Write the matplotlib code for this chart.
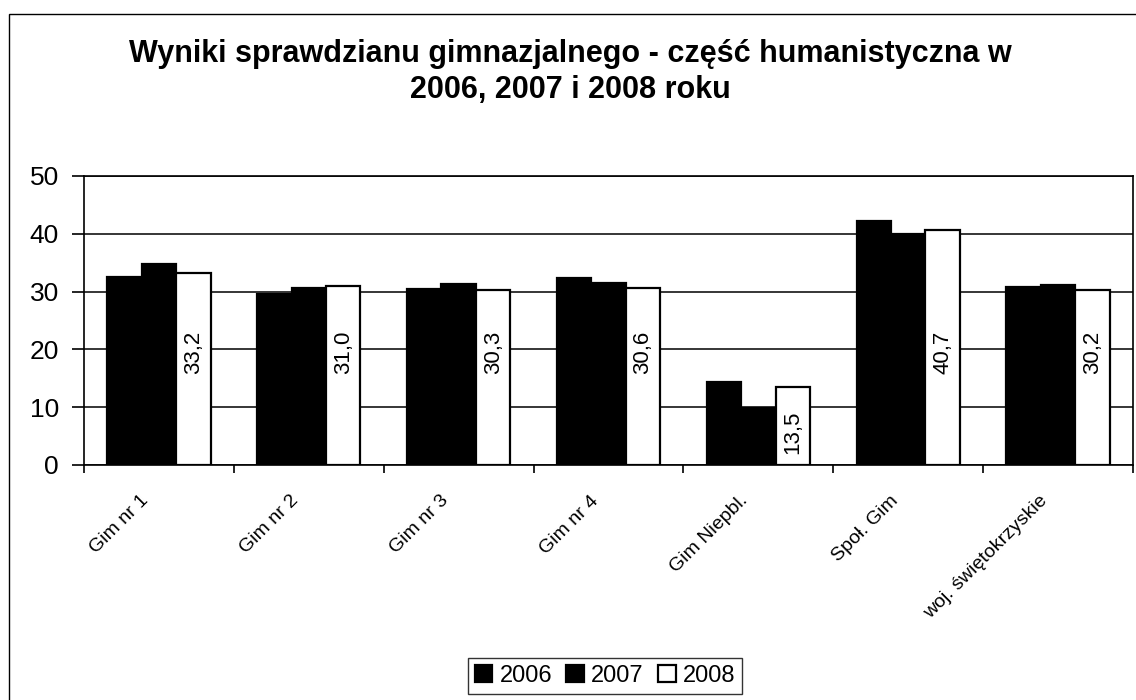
import matplotlib
matplotlib.use("Agg")
import matplotlib.pyplot as plt
import matplotlib.patches as mpatches
import matplotlib.transforms as mtransforms
import numpy as np

plt.rcParams['font.family'] = ['Liberation Sans', 'DejaVu Sans']

categories = ["Gim nr 1", "Gim nr 2", "Gim nr 3", "Gim nr 4", "Gim Niepbl.",
              "Społ. Gim", "woj. świętokrzyskie"]
years = ["2006", "2007", "2008"]
v2006 = [32.6, 29.5, 30.4, 32.3, 14.3, 42.2, 30.8]
v2007 = [34.8, 30.7, 31.3, 31.5, 9.8, 39.9, 31.1]
v2008 = [33.2, 31.0, 30.3, 30.6, 13.5, 40.7, 30.2]
labels2008 = ["33,2", "31,0", "30,3", "30,6", "13,5", "40,7", "30,2"]
yticks = [0, 10, 20, 30, 40, 50]

fig = plt.figure(figsize=(11.36, 7.0), dpi=100)
ax = fig.add_axes([84/1136, 1-465/700, (1133-84)/1136, (465-176)/700])

x = np.arange(len(categories))
w = 0.23
series = [v2006, v2007, v2008]
faces = ["black", "black", "white"]
for i, (vals, fc) in enumerate(zip(series, faces)):
    ax.bar(x + (i-1)*w, vals, width=w, color=fc, edgecolor="black",
           linewidth=1.6, label=years[i], zorder=3)

for xi, v, lab in zip(x, v2008, labels2008):
    ax.text(xi + w, min(19.5, v - 7.8), lab, rotation=90, ha="center",
            va="center", fontsize=16, zorder=4)

ax.set_xlim(-0.5, len(categories)-0.5)
ax.set_ylim(0, 50)
ax.set_yticks(yticks)
ax.set_yticklabels([str(t) for t in yticks], fontsize=19)
ax.tick_params(axis="y", length=9, width=1.2, pad=9)

ax.set_xticks(x)
ax.set_xticklabels(categories, rotation=45, ha="right", rotation_mode="anchor",
                   fontsize=14)
ax.tick_params(axis="x", which="major", length=0, pad=16)
offset = mtransforms.ScaledTranslation(-19/100, -5/100, fig.dpi_scale_trans)
for lbl in ax.get_xticklabels():
    lbl.set_transform(lbl.get_transform() + offset)
ax.set_xticks(np.arange(-0.5, len(categories)), minor=True)
ax.tick_params(axis="x", which="minor", length=6, width=1.2)

ax.yaxis.grid(True, color="black", linewidth=1.1, zorder=0)
ax.set_axisbelow(True)
for s in ax.spines.values():
    s.set_linewidth(1.2)
    s.set_color("black")

fig.text(570/1136, 1-72/700,
         "Wyniki sprawdzianu gimnazjalnego - część humanistyczna w\n2006, 2007 i 2008 roku",
         ha="center", va="center", fontsize=22, fontweight="bold", linespacing=1.28)

leg = fig.legend(loc="center", bbox_to_anchor=(605/1136, 1-676/700), ncol=3,
                 fontsize=17, frameon=True, fancybox=False, edgecolor="black",
                 handlelength=0.75, handleheight=0.75, handletextpad=0.3,
                 columnspacing=0.6, borderpad=0.3)
leg.get_frame().set_linewidth(1.0)

border = mpatches.Rectangle((9/1136, -0.05), 1.1, 1-14/700+0.05,
                            transform=fig.transFigure, fill=False,
                            edgecolor="black", linewidth=1.0)
fig.patches.append(border)

fig.savefig("out.png", dpi=100, facecolor="white")
